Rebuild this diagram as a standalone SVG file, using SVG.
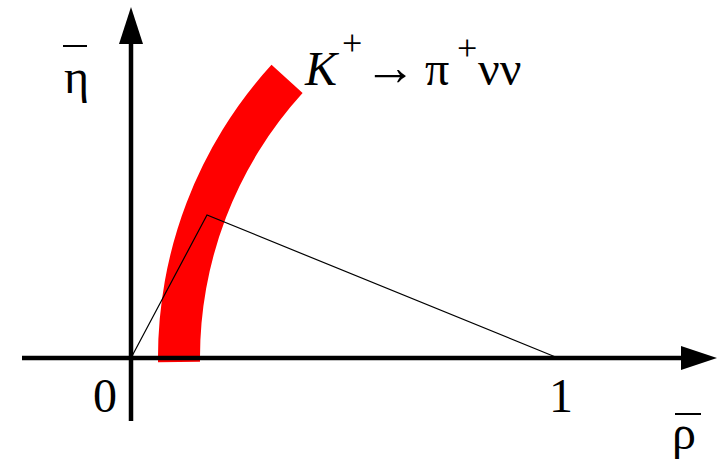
<svg xmlns="http://www.w3.org/2000/svg" width="726" height="464" viewBox="0 0 726 464">
<style>
.ax{stroke:#000;stroke-width:4.5;fill:none}
.bar{stroke:#000;stroke-width:2}
</style>
<rect width="726" height="464" fill="#fff"/>
<g id="band">
<path d="M271.5,64.8 A435,435 0 0 0 158,362.2 L200,361.8 A393,393 0 0 1 302.6,93.1 Z" fill="#ff0000"/>
</g>
<g id="triangle">
<polyline points="131,358 207,215 558,358" fill="none" stroke="#000" stroke-width="1.2"/>
</g>
<g id="axes">
<line class="ax" x1="22" y1="358" x2="684" y2="358"/>
<polygon points="681,346 717,358 681,370" fill="#000"/>
<line class="ax" x1="131" y1="421" x2="131" y2="40"/>
<polygon points="119,44 131,7 143,44" fill="#000"/>
</g>
<g id="labels" font-family="'Liberation Serif', 'Times New Roman', serif" font-size="48" fill="#000">
<text x="105" y="412" text-anchor="middle">0</text>
<text x="561" y="412" text-anchor="middle">1</text>
<text x="64" y="93">η</text>
<line class="bar" x1="63" y1="46" x2="87" y2="46"/>
<text x="672" y="449">ρ</text>
<line class="bar" x1="675" y1="414" x2="701" y2="414"/>
</g>
<g id="process-label" font-family="'Liberation Serif', 'Times New Roman', serif" font-size="48" fill="#000">
<text x="305" y="85" font-style="italic">K</text>
<text x="342" y="55" font-size="36">+</text>
<text x="364" y="85" font-size="52">→</text>
<text x="425" y="85">π</text>
<text x="457" y="60" font-size="36">+</text>
<text x="478" y="85">νν</text>
</g>
</svg>
